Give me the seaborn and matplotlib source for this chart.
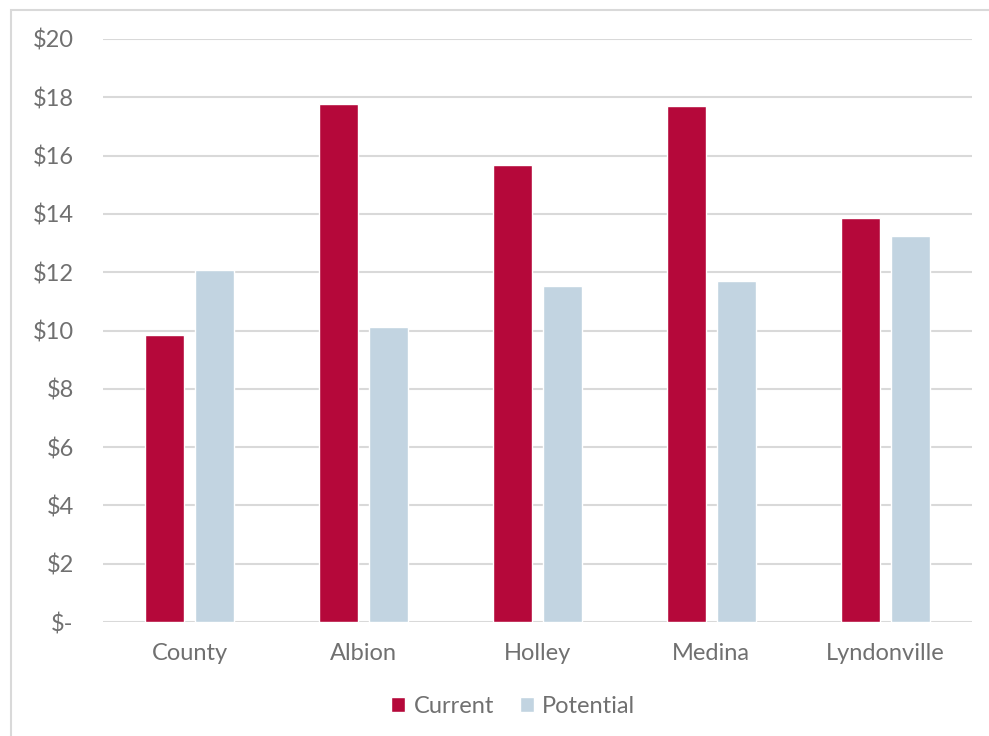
import matplotlib
matplotlib.use("Agg")
import matplotlib.pyplot as plt
import seaborn as sns
import pandas as pd
from matplotlib.patches import Rectangle

categories = ["County", "Albion", "Holley", "Medina", "Lyndonville"]
current = [9.85, 17.77, 15.68, 17.70, 13.86]
potential = [12.07, 10.12, 11.53, 11.70, 13.24]
series = ["Current", "Potential"]
yticks = [0, 2, 4, 6, 8, 10, 12, 14, 16, 18, 20]
ytick_labels = ["$-", "$2", "$4", "$6", "$8", "$10", "$12", "$14", "$16", "$18", "$20"]

df = pd.DataFrame({
    "category": categories * 2,
    "value": current + potential,
    "series": [series[0]] * len(categories) + [series[1]] * len(categories),
})

sns.set_theme(style="white")
plt.rcParams["font.family"] = ["Lato", "DejaVu Sans"]

TXT = "#707070"
FS = 17

fig = plt.figure(figsize=(9.89, 7.36), dpi=100)
ax = fig.add_axes([103/989, 114/736, 869/989, 583/736])

palette = {"Current": "#B5083A", "Potential": "#C2D4E1"}
sns.barplot(data=df, x="category", y="value", hue="series", palette=palette,
            width=0.575, gap=0.22, ax=ax, saturation=1, legend=True, zorder=3)

ax.set_ylim(0, 20)
ax.set_yticks(yticks)
ax.set_yticklabels(ytick_labels)
ax.yaxis.grid(True, color="#D9D9D9", linewidth=1.5, zorder=0)
ax.set_axisbelow(True)
for s in ax.spines.values():
    s.set_visible(False)
ax.set_xlabel("")
ax.set_ylabel("")
ax.tick_params(axis="both", length=0, labelcolor=TXT, labelsize=FS)
ax.tick_params(axis="y", pad=21)
ax.tick_params(axis="x", pad=15)

leg = ax.legend(loc="center", bbox_to_anchor=(0.472, -0.145), ncol=2, frameon=False,
                fontsize=FS, handlelength=0.6, handleheight=0.6, handletextpad=0.35,
                columnspacing=1.1, labelcolor=TXT)

fig.patches.append(Rectangle((11/989, -0.05), 1.1, 726/736 + 0.05, transform=fig.transFigure,
                             fill=False, edgecolor="#D9D9D9", linewidth=1.5, figure=fig))

fig.savefig("out.png", dpi=100)
